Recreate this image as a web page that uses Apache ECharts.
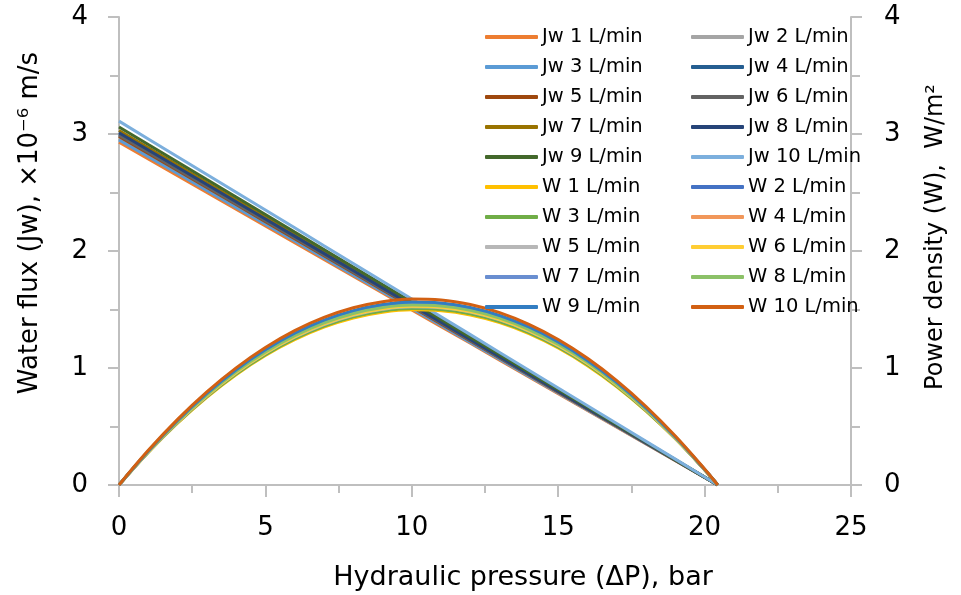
<!DOCTYPE html>
<html>
<head>
<meta charset="utf-8">
<script src="https://cdn.jsdelivr.net/npm/echarts@6/dist/echarts.min.js"></script>
<style>
  html, body { margin: 0; padding: 0; background: #fff; }
  #chart { width: 961px; height: 595px; }
</style>
</head>
<body>
<div id="chart"></div>
<script>
// Hydraulic pressure sample points (bar)
const pressure = [0, 1, 2, 3, 4, 5, 6, 7, 8, 9, 10, 11, 12, 13, 14, 15, 16, 17, 18, 19, 20, 20.45];

// Water flux Jw (x10^-6 m/s) at each pressure, per feed flow rate
const jw1  = [2.930, 2.787, 2.643, 2.500, 2.357, 2.214, 2.070, 1.927, 1.784, 1.641, 1.497, 1.354, 1.211, 1.067, 0.924, 0.781, 0.638, 0.494, 0.351, 0.208, 0.064, 0];
const jw2  = [2.960, 2.815, 2.671, 2.526, 2.381, 2.236, 2.092, 1.947, 1.802, 1.657, 1.513, 1.368, 1.223, 1.078, 0.934, 0.789, 0.644, 0.499, 0.355, 0.210, 0.065, 0];
const jw3  = [2.950, 2.806, 2.662, 2.517, 2.373, 2.229, 2.085, 1.940, 1.796, 1.652, 1.508, 1.363, 1.219, 1.075, 0.930, 0.786, 0.642, 0.498, 0.353, 0.209, 0.065, 0];
const jw4  = [3.000, 2.853, 2.707, 2.560, 2.413, 2.267, 2.120, 1.973, 1.826, 1.680, 1.533, 1.386, 1.240, 1.093, 0.946, 0.800, 0.653, 0.506, 0.359, 0.213, 0.066, 0];
const jw5  = [2.980, 2.834, 2.689, 2.543, 2.397, 2.251, 2.106, 1.960, 1.814, 1.668, 1.523, 1.377, 1.231, 1.086, 0.940, 0.794, 0.648, 0.503, 0.357, 0.211, 0.066, 0];
const jw6  = [2.990, 2.844, 2.698, 2.551, 2.405, 2.259, 2.113, 1.967, 1.820, 1.674, 1.528, 1.382, 1.236, 1.089, 0.943, 0.797, 0.651, 0.504, 0.358, 0.212, 0.066, 0];
const jw7  = [3.030, 2.882, 2.734, 2.586, 2.437, 2.289, 2.141, 1.993, 1.845, 1.697, 1.548, 1.400, 1.252, 1.104, 0.956, 0.808, 0.659, 0.511, 0.363, 0.215, 0.067, 0];
const jw8  = [3.010, 2.863, 2.716, 2.568, 2.421, 2.274, 2.127, 1.980, 1.833, 1.685, 1.538, 1.391, 1.244, 1.097, 0.949, 0.802, 0.655, 0.508, 0.361, 0.214, 0.066, 0];
const jw9  = [3.060, 2.910, 2.761, 2.611, 2.462, 2.312, 2.162, 2.013, 1.863, 1.713, 1.564, 1.414, 1.264, 1.115, 0.965, 0.816, 0.666, 0.516, 0.367, 0.217, 0.067, 0];
const jw10 = [3.110, 2.958, 2.806, 2.654, 2.502, 2.350, 2.198, 2.045, 1.893, 1.741, 1.589, 1.437, 1.285, 1.133, 0.981, 0.829, 0.677, 0.525, 0.373, 0.221, 0.068, 0];

// Power density W (W/m^2) at each pressure, per feed flow rate
const w1  = [0, 0.279, 0.529, 0.750, 0.943, 1.107, 1.242, 1.349, 1.427, 1.476, 1.497, 1.489, 1.453, 1.388, 1.294, 1.171, 1.020, 0.840, 0.632, 0.395, 0.129, 0];
const w2  = [0, 0.282, 0.534, 0.758, 0.952, 1.118, 1.255, 1.363, 1.442, 1.492, 1.513, 1.505, 1.468, 1.402, 1.307, 1.183, 1.031, 0.849, 0.638, 0.399, 0.130, 0];
const w3  = [0, 0.281, 0.532, 0.755, 0.949, 1.114, 1.251, 1.358, 1.437, 1.487, 1.508, 1.500, 1.463, 1.397, 1.303, 1.179, 1.027, 0.846, 0.636, 0.397, 0.130, 0];
const w4  = [0, 0.285, 0.541, 0.768, 0.965, 1.133, 1.272, 1.381, 1.461, 1.512, 1.533, 1.525, 1.488, 1.421, 1.325, 1.199, 1.045, 0.861, 0.647, 0.404, 0.132, 0];
const w5  = [0, 0.283, 0.538, 0.763, 0.959, 1.126, 1.263, 1.372, 1.451, 1.501, 1.523, 1.515, 1.478, 1.411, 1.316, 1.191, 1.038, 0.855, 0.643, 0.401, 0.131, 0];
const w6  = [0, 0.284, 0.540, 0.765, 0.962, 1.129, 1.268, 1.377, 1.456, 1.507, 1.528, 1.520, 1.483, 1.416, 1.320, 1.195, 1.041, 0.857, 0.645, 0.403, 0.131, 0];
const w7  = [0, 0.288, 0.547, 0.776, 0.975, 1.145, 1.285, 1.395, 1.476, 1.527, 1.548, 1.540, 1.502, 1.435, 1.338, 1.211, 1.055, 0.869, 0.653, 0.408, 0.133, 0];
const w8  = [0, 0.286, 0.543, 0.770, 0.969, 1.137, 1.276, 1.386, 1.466, 1.517, 1.538, 1.530, 1.493, 1.426, 1.329, 1.203, 1.048, 0.863, 0.649, 0.406, 0.132, 0];
const w9  = [0, 0.291, 0.552, 0.783, 0.985, 1.156, 1.297, 1.409, 1.490, 1.542, 1.564, 1.555, 1.517, 1.449, 1.351, 1.223, 1.065, 0.878, 0.660, 0.412, 0.134, 0];
const w10 = [0, 0.296, 0.561, 0.796, 1.001, 1.175, 1.319, 1.432, 1.515, 1.567, 1.589, 1.581, 1.542, 1.473, 1.373, 1.243, 1.083, 0.892, 0.671, 0.419, 0.137, 0];

const jwNames = ['Jw 1 L/min', 'Jw 2 L/min', 'Jw 3 L/min', 'Jw 4 L/min', 'Jw 5 L/min',
                 'Jw 6 L/min', 'Jw 7 L/min', 'Jw 8 L/min', 'Jw 9 L/min', 'Jw 10 L/min'];
const wNames  = ['W 1 L/min', 'W 2 L/min', 'W 3 L/min', 'W 4 L/min', 'W 5 L/min',
                 'W 6 L/min', 'W 7 L/min', 'W 8 L/min', 'W 9 L/min', 'W 10 L/min'];
const jwValues = [jw1, jw2, jw3, jw4, jw5, jw6, jw7, jw8, jw9, jw10];
const wValues  = [w1, w2, w3, w4, w5, w6, w7, w8, w9, w10];

const jwColors = ['#ED7D31', '#A5A5A5', '#5B9BD5', '#255E91', '#9E480E',
                  '#636363', '#997300', '#264478', '#43682B', '#7CAFDD'];
const wColors  = ['#FFC000', '#4472C4', '#70AD47', '#F1975A', '#B7B7B7',
                  '#FFCD33', '#698ED0', '#8CC168', '#327DC2', '#D26012'];

const FONT = 'DejaVu Sans';
const AXIS_GRAY = '#BFBFBF';

function pairs(values) {
  return pressure.map((p, i) => [p, values[i]]);
}

const series = [];
jwValues.forEach((vals, i) => {
  series.push({
    name: jwNames[i], type: 'line', yAxisIndex: 0,
    data: pairs(vals), showSymbol: false, symbol: 'none',
    color: jwColors[i], lineStyle: { width: 3, color: jwColors[i] }
  });
});
wValues.forEach((vals, i) => {
  series.push({
    name: wNames[i], type: 'line', yAxisIndex: 1, smooth: 0.4,
    data: pairs(vals), showSymbol: false, symbol: 'none',
    color: wColors[i], lineStyle: { width: 3, color: wColors[i] }
  });
});

// Legend laid out in two columns, alternating series
const col1 = [], col2 = [];
jwNames.concat(wNames).forEach((n, i) => (i % 2 === 0 ? col1 : col2).push(n));

function legendAt(left, data) {
  return {
    left: left, top: 21, orient: 'vertical', data: data,
    icon: 'roundRect', itemWidth: 53, itemHeight: 4, itemGap: 8,
    selectedMode: false,
    textStyle: { fontFamily: FONT, fontSize: 19.5, lineHeight: 22, color: '#000', padding: [0, 0, 0, -1] }
  };
}

function yAxisStyle(position, margin) {
  return {
    type: 'value', position: position, min: 0, max: 4, interval: 1,
    axisLine: { show: true, lineStyle: { color: AXIS_GRAY, width: 2 } },
    axisTick: { show: true, length: 11, lineStyle: { color: AXIS_GRAY, width: 2 } },
    minorTick: { show: true, splitNumber: 2, length: 9, lineStyle: { color: AXIS_GRAY, width: 2 } },
    splitLine: { show: false },
    axisLabel: { fontFamily: FONT, fontSize: 26, color: '#000', margin: margin }
  };
}

const chart = echarts.init(document.getElementById('chart'), null, { renderer: 'canvas' });
chart.setOption({
  animation: false,
  backgroundColor: '#fff',
  grid: { left: 119, right: 110, top: 17, bottom: 110, containLabel: false },
  legend: [legendAt(480, col1), legendAt(686, col2)],
  xAxis: {
    type: 'value', min: 0, max: 25, interval: 5,
    axisLine: { show: true, onZero: false, lineStyle: { color: AXIS_GRAY, width: 2 } },
    axisTick: { show: true, length: 12, lineStyle: { color: AXIS_GRAY, width: 2 } },
    minorTick: { show: true, splitNumber: 2, length: 8, lineStyle: { color: AXIS_GRAY, width: 2 } },
    splitLine: { show: false },
    axisLabel: { fontFamily: FONT, fontSize: 26, color: '#000', margin: 30 }
  },
  yAxis: [yAxisStyle('left', 31), yAxisStyle('right', 33)],
  graphic: [
    {
      type: 'text', x: 523, y: 578,
      style: { text: 'Hydraulic pressure (ΔP), bar', fontFamily: FONT, fontSize: 27,
               fill: '#000', align: 'center', verticalAlign: 'middle' }
    },
    {
      type: 'text', x: 30, y: 223, rotation: Math.PI / 2,
      style: { text: 'Water flux (Jw), ×10⁻⁶ m/s', fontFamily: FONT, fontSize: 26,
               fill: '#000', align: 'center', verticalAlign: 'middle' }
    },
    {
      type: 'text', x: 936, y: 237, rotation: Math.PI / 2,
      style: { text: 'Power density (W),  W/m²', fontFamily: FONT, fontSize: 24,
               fill: '#000', align: 'center', verticalAlign: 'middle' }
    }
  ],
  series: series
});
</script>
</body>
</html>
